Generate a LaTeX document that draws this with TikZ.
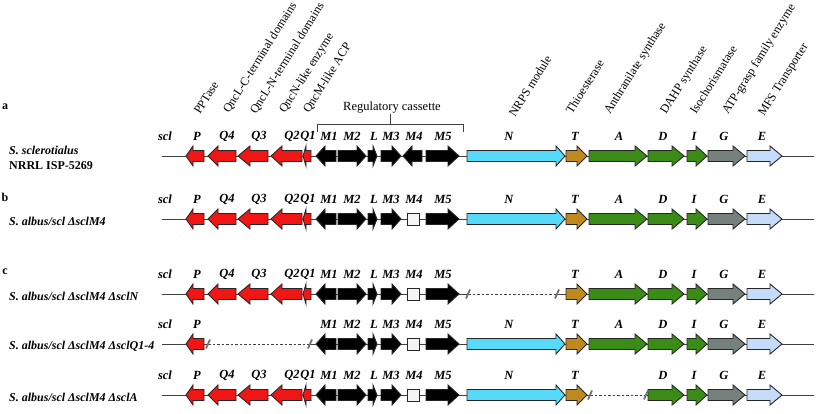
\documentclass[tikz,border=0pt]{standalone}
\usepackage{fontspec}
\setmainfont{Liberation Serif}

\definecolor{sclred}{RGB}{240,22,22}
\definecolor{sclcyan}{RGB}{85,218,250}
\definecolor{sclbrown}{RGB}{190,138,30}
\definecolor{sclgreen}{RGB}{58,140,22}
\definecolor{sclgray}{RGB}{118,128,124}
\definecolor{sclblue}{RGB}{196,220,250}

\tikzset{
  gene/.style={draw=black!85, line width=0.9pt, line join=miter},
  genelab/.style={font=\bfseries\itshape\fontsize{12.5}{14}\selectfont, inner sep=0pt},
  funclab/.style={font=\fontsize{12.1}{14}\selectfont, rotate=58, anchor=base west, inner sep=0pt},
  strainlab/.style={font=\bfseries\itshape\fontsize{12}{14}\selectfont, anchor=west, inner sep=0pt},
  panellab/.style={font=\bfseries\fontsize{12}{14}\selectfont, inner sep=0pt},
  backbone/.style={draw=black!75, line width=0.6pt},
  gapline/.style={draw=black!75, line width=0.5pt, dash pattern=on 2.5pt off 2pt},
  cutmark/.style={draw=black!55, line width=1.8pt},
}

% start / head base / tip / row / fill
\newcommand{\gene}[5]{%
  \filldraw[gene,fill=#5] (#1,#4-5.5) -- (#2,#4-5.5) -- (#2,#4-10) -- (#3,#4)
    -- (#2,#4+10) -- (#2,#4+5.5) -- (#1,#4+5.5) -- cycle;}
\newcommand{\genecut}[1]{\draw[cutmark] ($(#1)+(-2,4.5)$) -- ($(#1)+(2,-4.5)$);}

\def\qncgenes{236/218/208, 268/250/238, 302/282/271, 311/306/303}
\def\reggenes{336/325/316, 338/357/366, 368/373/377, 381/392/401, 426/448/459}
\def\restgenes{648/672/684/sclgreen, 687/696/707/sclgreen, 708/733/745/sclgray, 747/770/782/sclblue}
\def\baselabs{scl/165, P/197, M1/329, M2/352, L/374, M3/391, M4/414, M5/443, T/575, D/663, I/694, G/724, E/762}
\def\qnclabs{Q4/227, Q3/259, Q2/292, Q1/308}

\usetikzlibrary{calc}

\begin{document}
\begin{tikzpicture}[x=1pt,y=-1pt]
\useasboundingbox (0,0) rectangle (817,414);

\node[panellab] (pa) at (5,107) {a};
\node[panellab] (pb) at (5,197) {b};
\node[panellab] (pc) at (5,272) {c};

\node[strainlab] (sa1) at (9,150) {S. sclerotialus};
\node[strainlab,font=\bfseries\fontsize{12}{14}\selectfont] (sa2) at (9,166) {NRRL ISP-5269};
\node[strainlab] (sb) at (9,221) {S. albus/scl ΔsclM4};
\node[strainlab] (sc1) at (9,296) {S. albus/scl ΔsclM4 ΔsclN};
\node[strainlab] (sc2) at (9,346) {S. albus/scl ΔsclM4 ΔsclQ1-4};
\node[strainlab] (sc3) at (9,397) {S. albus/scl ΔsclM4 ΔsclA};

\foreach \lab/\x/\y in {
PPTase/200/115,
QncL-C-terminal domains/229/114,
QncL-N-terminal domains/256/115,
QncN-like enzyme/285/114,
QncM-like ACP/309/114,
NRPS module/515/118,
Thioesterase/572/115,
Anthranilate synthase/610/115,
DAHP synthase/666/115,
Isochorismatase/696/115,
ATP-grasp family enzyme/728/115,
MFS Transporter/764/117}
{
  \node[funclab] at (\x,\y) {\lab};
}

\coordinate (br1) at (317,132);
\coordinate (br2) at (463,132);
\coordinate (brm) at (390,124);
\draw[backbone] (br1) -- (br1 |- brm) -- (br2 |- brm) -- (br2);
\node[font=\fontsize{12.5}{14}\selectfont, inner sep=0pt, anchor=base] (regcas) at (392,111) {Regulatory cassette};
\draw[backbone] (brm) -- (brm |- regcas.south);

\foreach \r/\y in {a/156,b/219} {
  \coordinate (\r0) at (162,\y);
  \coordinate (\r1) at (814,\y);
  \draw[backbone] (\r0) -- (\r1);
}
\coordinate (c10) at (162,294); \coordinate (c1x) at (468,294);
\coordinate (c1y) at (557,294); \coordinate (c11) at (814,294);
\coordinate (c20) at (162,344); \coordinate (c2x) at (208,344);
\coordinate (c2y) at (310,344); \coordinate (c21) at (814,344);
\coordinate (c30) at (162,395); \coordinate (c3x) at (590,395);
\coordinate (c3y) at (646,395); \coordinate (c31) at (814,395);
\foreach \r in {c1,c2,c3} {
  \draw[backbone] (\r0) -- (\r x);
  \draw[gapline] (\r x) -- (\r y);
  \draw[backbone] (\r y) -- (\r1);
}

\foreach \y in {156,219,294,344,395} {
  \gene{204}{193}{186}{\y}{sclred}
  \foreach \s/\h/\t in \reggenes {\gene{\s}{\h}{\t}{\y}{black}}
  \gene{566}{577}{587}{\y}{sclbrown}
  \foreach \s/\h/\t/\col in \restgenes {\gene{\s}{\h}{\t}{\y}{\col}}
}
\foreach \y in {156,219,294,395} {
  \foreach \s/\h/\t in \qncgenes {\gene{\s}{\h}{\t}{\y}{sclred}}
}
\gene{422}{412}{403}{156}{black}
\foreach \y in {219,294,344,395} {\draw[gene,fill=black!4] (407,\y-6) rectangle (419,\y+6);}
\foreach \y in {156,219,344,395} {\gene{467}{556}{565}{\y}{sclcyan}}
\foreach \y in {156,219,294,344} {\gene{589}{635}{647}{\y}{sclgreen}}

\foreach \r in {c1,c2,c3} {\genecut{\r x} \genecut{\r y}}

\foreach \r/\y in {a/136,b/199,c1/274,c2/324,c3/375} {
  \foreach \g/\x in \baselabs {\node[genelab] (\r\g) at (\x,\y) {\g};}
}
\foreach \r/\y in {a/136,b/199,c1/274,c3/375} {
  \foreach \g/\x in \qnclabs {\node[genelab] (\r\g) at (\x,\y) {\g};}
}
\foreach \r/\y in {a/136,b/199,c2/324,c3/375} {\node[genelab] (\r N) at (509,\y) {N};}
\foreach \r/\y in {a/136,b/199,c1/274,c2/324} {\node[genelab] (\r A) at (619,\y) {A};}
\end{tikzpicture}
\end{document}
